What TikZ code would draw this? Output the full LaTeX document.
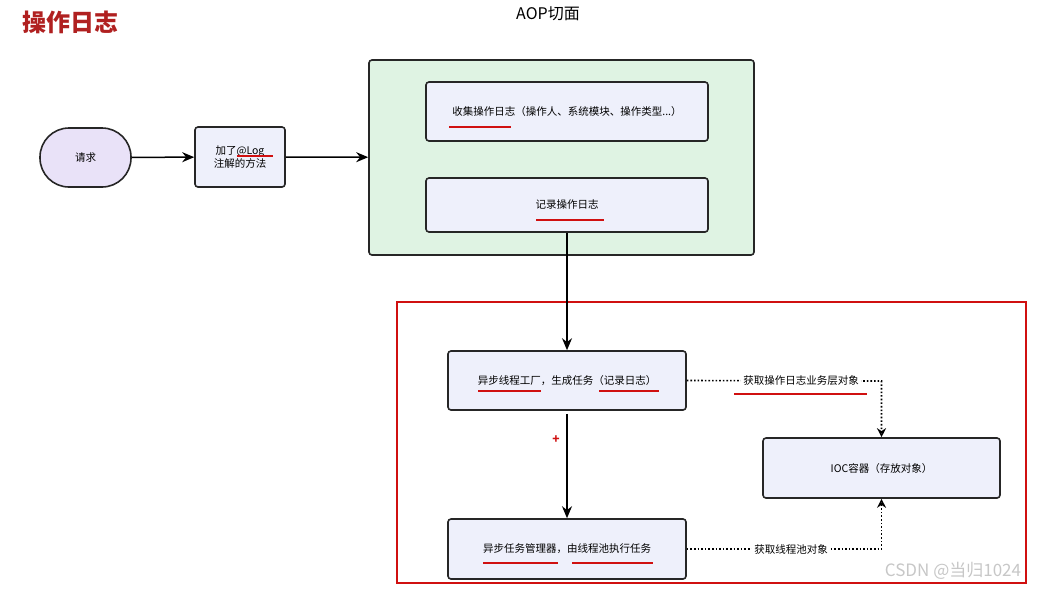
\documentclass[tikz,border=0pt]{standalone}
\usepackage{fontspec}
\setmainfont{Noto Sans CJK SC}
\usetikzlibrary{arrows.meta}
\definecolor{boxfill}{HTML}{EEF0FB}
\definecolor{greenfill}{HTML}{DFF3E3}
\definecolor{purplefill}{HTML}{E9E2F8}
\definecolor{redline}{HTML}{D01010}
\definecolor{titlered}{HTML}{B02020}
\tikzset{
 box/.style={draw=black!85,line width=1.6pt,rounded corners=3pt,fill=boxfill,inner sep=0pt,font=\fontsize{10.5}{13}\selectfont},
 arr/.style={-{Stealth[length=12pt,width=10pt]},line width=1.5pt},
 dot/.style={dotted,line width=1.6pt,-{Stealth[length=9pt,width=9pt,open]}},
 ul/.style={redline,line width=2pt},
 lbl/.style={fill=white,font=\fontsize{10.5}{13}\selectfont,inner sep=2pt}
}
\begin{document}
\begin{tikzpicture}[x=1pt,y=-1pt]
\useasboundingbox[fill=white] (0,0) rectangle (1038,590);
\node[font=\fontsize{24}{28}\selectfont\bfseries,text=titlered] (title) at (70,22) {操作日志};
\node[font=\fontsize{16}{19}\selectfont] (aop) at (548,14) {AOP切面};
\node[draw=black!85,line width=1.6pt,rounded corners=3pt,fill=greenfill,minimum width=385pt,minimum height=195pt] (aopbox) at (561.5,157.5) {};
\node[box,minimum width=282pt,minimum height=59pt] (collect) at (567,111.5) {收集操作日志（操作人、系统模块、操作类型...）};
\node[box,minimum width=282pt,minimum height=54pt] (record) at (567,205) {记录操作日志};
\node[box,fill=purplefill,rounded corners=29pt,minimum width=91pt,minimum height=59pt] (req) at (85.5,157.5) {请求};
\node[box,minimum width=90pt,minimum height=60pt,align=center] (log) at (240,157) {加了@Log\\注解的方法};
\draw[arr] (req) -- (log);
\draw[arr] (log) -- (aopbox);
\node[draw=redline,line width=1.8pt,minimum width=629pt,minimum height=281pt] (redbox) at (711.5,442.5) {};
\node[box,minimum width=238pt,minimum height=59pt] (fac) at (567,380.5) {异步线程工厂，生成任务（记录日志）};
\node[box,minimum width=238pt,minimum height=60pt] (mgr) at (567,549) {异步任务管理器，由线程池执行任务};
\node[box,minimum width=237pt,minimum height=60pt] (ioc) at (881.5,468) {IOC容器（存放对象）};
\draw[arr] (record.south) -- (fac.north);
\draw[arr] (fac.south) ++(0,3) -- (mgr.north);
\node[text=redline,font=\bfseries\fontsize{12}{12}\selectfont] (plus) at (556,440) {+};
\coordinate (c1) at (881.5,381);
\coordinate (c2) at (881.5,549);
\draw[dot] (fac.east) -- (c1) -- (ioc.north);
\draw[dot] (mgr.east) -- (c2) -- (ioc.south);
\node[lbl] (l1) at (801,381) {获取操作日志业务层对象};
\node[lbl] (l2) at (791,549) {获取线程池对象};
% underlines
\draw[ul] (449,127) -- (511,127);
\draw[ul] (536,220) -- (604,220);
\draw[ul] (237,156) -- (273,156);
\draw[ul] (478,391) -- (541,391);
\draw[ul] (599,391) -- (659,391);
\draw[ul] (734,394) -- (867,394);
\draw[ul] (483,563) -- (558,563);
\draw[ul] (572,563) -- (653,563);
\node[text=black!22,font=\fontsize{17}{20}\selectfont] (wm) at (953,571) {CSDN @当归1024};
\end{tikzpicture}
\end{document}
